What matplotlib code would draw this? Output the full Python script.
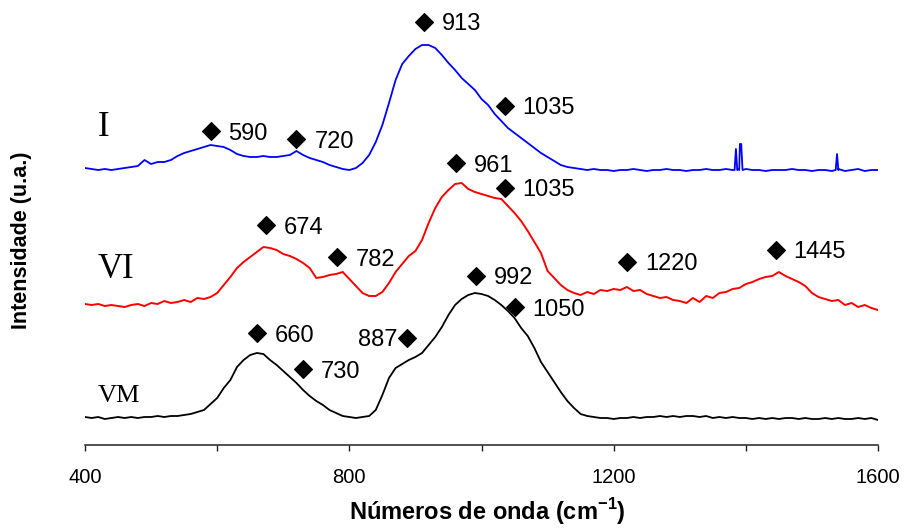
import matplotlib
matplotlib.use("Agg")
import matplotlib.pyplot as plt

plt.rcParams['font.family'] = ['Liberation Sans', 'DejaVu Sans']
plt.rcParams['mathtext.fontset'] = 'custom'
plt.rcParams['mathtext.rm'] = 'Liberation Sans'
plt.rcParams['mathtext.bf'] = 'Liberation Sans:bold'

# ---------------- data (wavenumber in cm-1, intensity in arbitrary units, offset spectra) -----
wn = list(range(400, 1601, 10))

# Spectrum I (blue) on the regular grid
I_vals = [277, 276, 275, 276, 275, 276, 277, 278, 279, 285,
          281, 283, 283, 285, 289, 292, 294, 296, 298, 300,
          299, 298, 295, 291, 289, 288, 288, 289, 288, 288,
          289, 290, 294, 290, 287, 285, 283, 280, 278, 276,
          275, 277, 282, 290, 303, 320, 342, 365, 381, 389,
          396, 400, 400, 397, 390, 382, 375, 367, 361, 355,
          346, 340, 331, 324, 317, 312, 307, 302, 297, 292,
          288, 284, 280, 278, 277, 276, 275, 276, 275, 275,
          274, 275, 275, 276, 275, 274, 275, 275, 276, 275,
          275, 274, 275, 275, 276, 275, 275, 276, 275, 275,
          276, 275, 275, 274, 275, 275, 275, 276, 275, 275,
          274, 275, 275, 274, 276, 274, 275, 276, 274, 275, 275]
# narrow spikes of spectrum I
I_spike_wn = [1383, 1385, 1387, 1389, 1391, 1393, 1395, 1536, 1538, 1540]
I_spike_vals = [275, 296, 275, 276, 301, 301, 275, 275, 291, 275]

# Spectrum VI (red)
VI_vals = [141, 140, 141, 139, 140, 139, 138, 140, 141, 139,
           142, 141, 144, 142, 143, 145, 143, 147, 146, 148,
           152, 160, 168, 177, 183, 188, 193, 198, 197, 195,
           191, 189, 186, 182, 177, 167, 168, 170, 171, 173,
           166, 159, 152, 149, 149, 153, 162, 173, 181, 189,
           194, 205, 222, 237, 248, 255, 261, 262, 256, 253,
           251, 249, 247, 246, 239, 232, 224, 214, 203, 192,
           174, 167, 160, 155, 152, 150, 153, 151, 155, 154,
           156, 155, 158, 154, 155, 151, 149, 147, 148, 145,
           144, 142, 147, 143, 149, 147, 152, 153, 156, 157,
           161, 163, 166, 168, 169, 173, 169, 166, 163, 159,
           152, 148, 146, 144, 145, 140, 142, 138, 140, 137, 135]

# Spectrum VM (black)
VM_vals = [28, 27, 28, 26, 27, 28, 27, 28, 27, 28,
           28, 29, 28, 29, 29, 30, 31, 33, 35, 41,
           47, 57, 65, 78, 85, 90, 92, 91, 85, 80,
           74, 68, 62, 55, 49, 44, 40, 35, 32, 29,
           28, 27, 28, 29, 35, 50, 67, 77, 81, 85,
           88, 92, 100, 108, 118, 130, 140, 146, 150, 152,
           151, 149, 145, 140, 134, 127, 117, 109, 97, 83,
           73, 63, 53, 44, 37, 31, 29, 28, 27, 27,
           26, 27, 27, 28, 27, 28, 28, 29, 28, 29,
           28, 29, 29, 28, 29, 27, 28, 27, 28, 27,
           27, 26, 27, 26, 27, 26, 27, 27, 26, 27,
           26, 26, 27, 26, 27, 26, 26, 27, 26, 27, 25]

# Band assignments: (wavenumber label, marker height, label side)
bands_wn = [590, 720, 913, 1035, 961, 1035, 674, 782, 1220, 1445, 992, 1050, 660, 730, 887]
bands_y = [314, 306, 423, 339, 282, 257, 220, 188, 183, 195, 169, 138, 112, 76, 107]
bands_side = ['r'] * 14 + ['l']

series_names = ['I', 'VI', 'VM']
series_name_pos = [(104, 317), (116, 176), (119, 49)]
series_name_size = [25, 25, 19]

# ---------------- figure ----------------
W, H = 906, 528
fig = plt.figure(figsize=(W / 100, H / 100), dpi=100)
ax = fig.add_axes([85 / W, 83 / H, (878 - 85) / W, 445 / H])

# merge spikes into spectrum I
pairs = sorted(list(zip(wn, I_vals)) + list(zip(I_spike_wn, I_spike_vals)))
I_wn_all = [p[0] for p in pairs]
I_all = [p[1] for p in pairs]

ax.plot(I_wn_all, I_all, color='#0000FF', lw=1.3)
ax.plot(wn, VI_vals, color='#FF0000', lw=1.4)
ax.plot(wn, VM_vals, color='black', lw=1.3)

ax.plot(bands_wn, bands_y, linestyle='none', marker='D', ms=9, color='black', mew=0.8)
for x, y, s in zip(bands_wn, bands_y, bands_side):
    if s == 'r':
        ax.annotate(str(x), (x, y), xytext=(18, 0), textcoords='offset pixels',
                    ha='left', va='center_baseline', fontsize=17)
    else:
        ax.annotate(str(x), (x, y), xytext=(-9, 0), textcoords='offset pixels',
                    ha='right', va='center_baseline', fontsize=17)

for name, (x, y), fs in zip(series_names, series_name_pos, series_name_size):
    ax.text((x - 85) / 0.661 + 400, y, name, family='Liberation Serif', fontsize=fs,
            ha='center', va='center')

ax.set_xlim(400, 1600)
ax.set_ylim(0, 445)
ax.set_xticks([400, 600, 800, 1000, 1200, 1400, 1600])
ax.set_xticklabels(['400', '', '800', '', '1200', '', '1600'], fontsize=14.5)
ax.tick_params(axis='x', direction='out', length=4.5, width=1.0, pad=12, color='#222222')
ax.set_yticks([])
for sp in ['left', 'right', 'top']:
    ax.spines[sp].set_visible(False)
ax.spines['bottom'].set_linewidth(1.1)
ax.spines['bottom'].set_color('#222222')

fig.text(487 / W, 1 / H, 'Números de onda (cm$^{\\mathbf{-1}}$)', fontsize=17,
         fontweight='bold', ha='center', va='bottom')
fig.text(22 / W, 1 - 240 / H, 'Intensidade (u.a.)', fontsize=15.5, fontweight='bold',
         rotation=90, ha='center', va='center')

fig.savefig('out.png', dpi=100)
